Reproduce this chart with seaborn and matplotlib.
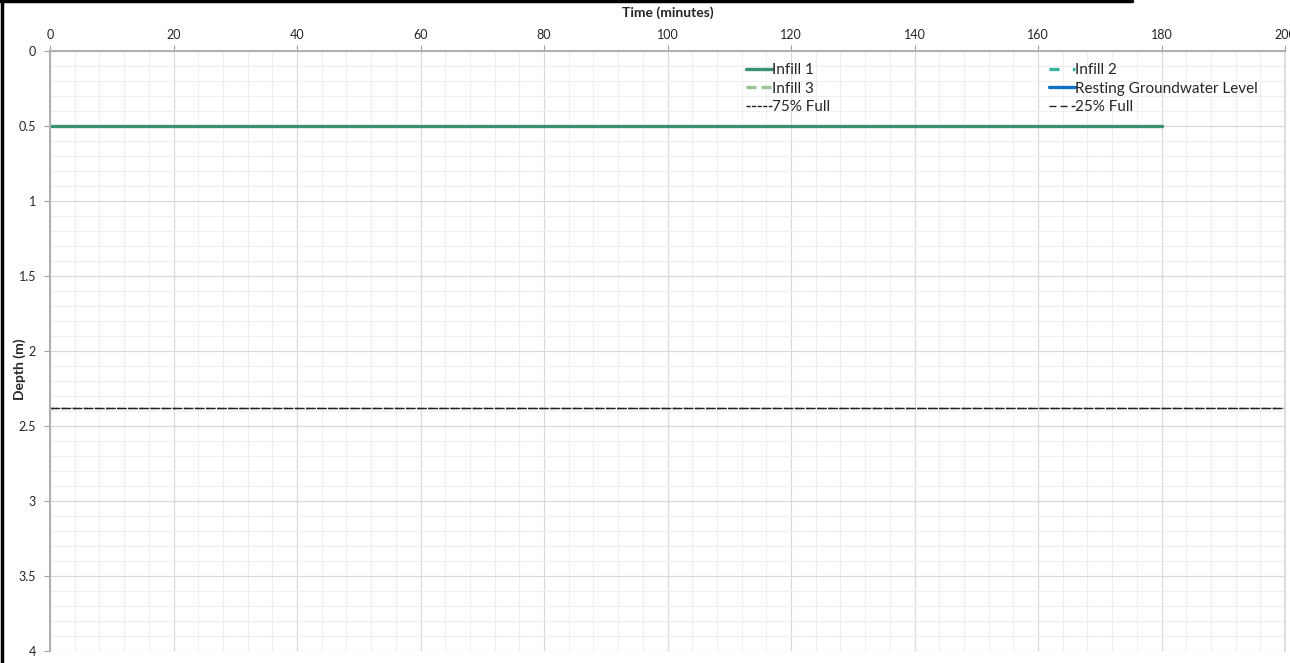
import numpy as np
import pandas as pd
import seaborn as sns
import matplotlib.pyplot as plt
from matplotlib.ticker import MultipleLocator

# values
infill1_time = [0, 180]
infill1_depth = [0.5, 0.5]
full_time = [0, 200]
full75_depth = [2.38, 2.38]
full25_depth = [2.38, 2.38]

x_ticks = [0, 20, 40, 60, 80, 100, 120, 140, 160, 180, 200]
y_ticks = [0, 0.5, 1, 1.5, 2, 2.5, 3, 3.5, 4]
y_tick_labels = ["0", "0.5", "1", "1.5", "2", "2.5", "3", "3.5", "4"]

sns.set_theme(style="white")
plt.rcParams['font.family'] = ['Lato', 'DejaVu Sans']

fig = plt.figure(figsize=(12.9, 6.63), dpi=100)
ax = fig.add_axes([50 / 1290, 1 - 651 / 663, 1235 / 1290, 600 / 663])

df1 = pd.DataFrame({"t": infill1_time, "d": infill1_depth})
sns.lineplot(data=df1, x="t", y="d", ax=ax, color="#3a9170", linewidth=2.4,
             label="Infill 1")
ax.plot([], [], color="#36b3a4", linewidth=2.4, dashes=(3, 4, 1, 4), label="Infill 2")
ax.plot([], [], color="#98c495", linewidth=2.4, dashes=(3, 1.5), label="Infill 3")
ax.plot([], [], color="#1170c4", linewidth=2.4, label="Resting Groundwater Level")

df75 = pd.DataFrame({"t": full_time, "d": full75_depth})
df25 = pd.DataFrame({"t": full_time, "d": full25_depth})
sns.lineplot(data=df75, x="t", y="d", ax=ax, color="#222222", linewidth=1.0,
             label="75% Full")
ax.lines[-1].set_dashes((3, 1))
sns.lineplot(data=df25, x="t", y="d", ax=ax, color="#222222", linewidth=1.0,
             label="25% Full")
ax.lines[-1].set_dashes((5, 3))

ax.set_xlim(0, 200)
ax.set_ylim(4, 0)
ax.xaxis.set_ticks_position("top")
ax.xaxis.set_label_position("top")
ax.set_xticks(x_ticks)
ax.set_yticks(y_ticks)
ax.set_yticklabels(y_tick_labels)
ax.xaxis.set_minor_locator(MultipleLocator(4))
ax.yaxis.set_minor_locator(MultipleLocator(0.1))
ax.tick_params(axis="both", which="major", labelsize=9, length=4, width=0.8,
               color="#a0a0a0", top=True, left=True)
ax.tick_params(axis="y", which="major", pad=6)
ax.tick_params(axis="x", which="major", pad=3)
ax.tick_params(axis="both", which="minor", length=0)
ax.grid(which="major", color="#d9d9d9", linewidth=0.9)
ax.grid(which="minor", color="#efefef", linewidth=0.8)
ax.set_axisbelow(True)

for side in ["left", "top"]:
    ax.spines[side].set_color("#b0b0b0")
    ax.spines[side].set_linewidth(1.5)
ax.spines["right"].set_color("#d9d9d9")
ax.spines["bottom"].set_visible(False)

ax.set_xlabel("Time (minutes)", fontsize=10, fontweight="bold", labelpad=9)
ax.set_ylabel("Depth (m)", fontsize=10, fontweight="bold")
ax.yaxis.set_label_coords(-24 / 1235, 0.47)

handles, labels = ax.get_legend_handles_labels()
order = ["Infill 1", "Infill 3", "75% Full", "Infill 2", "Resting Groundwater Level", "25% Full"]
h = [handles[labels.index(o)] for o in order]
leg = ax.legend(h, order, loc="upper left", bbox_to_anchor=(0.559, 0.99), ncol=2,
                frameon=False, fontsize=11, handlelength=1.7, handletextpad=0.0,
                columnspacing=14.3, labelspacing=0.3, borderaxespad=0)

# black frame edges of the cropped screenshot
fig.add_artist(plt.Line2D([2 / 1290, 2 / 1290], [0, 1], color="black", linewidth=2.5,
                          transform=fig.transFigure))
fig.add_artist(plt.Line2D([0, 1132 / 1290], [1 - 1 / 663, 1 - 1 / 663], color="black",
                          linewidth=2.5, transform=fig.transFigure))

fig.savefig("out.png", dpi=100)
